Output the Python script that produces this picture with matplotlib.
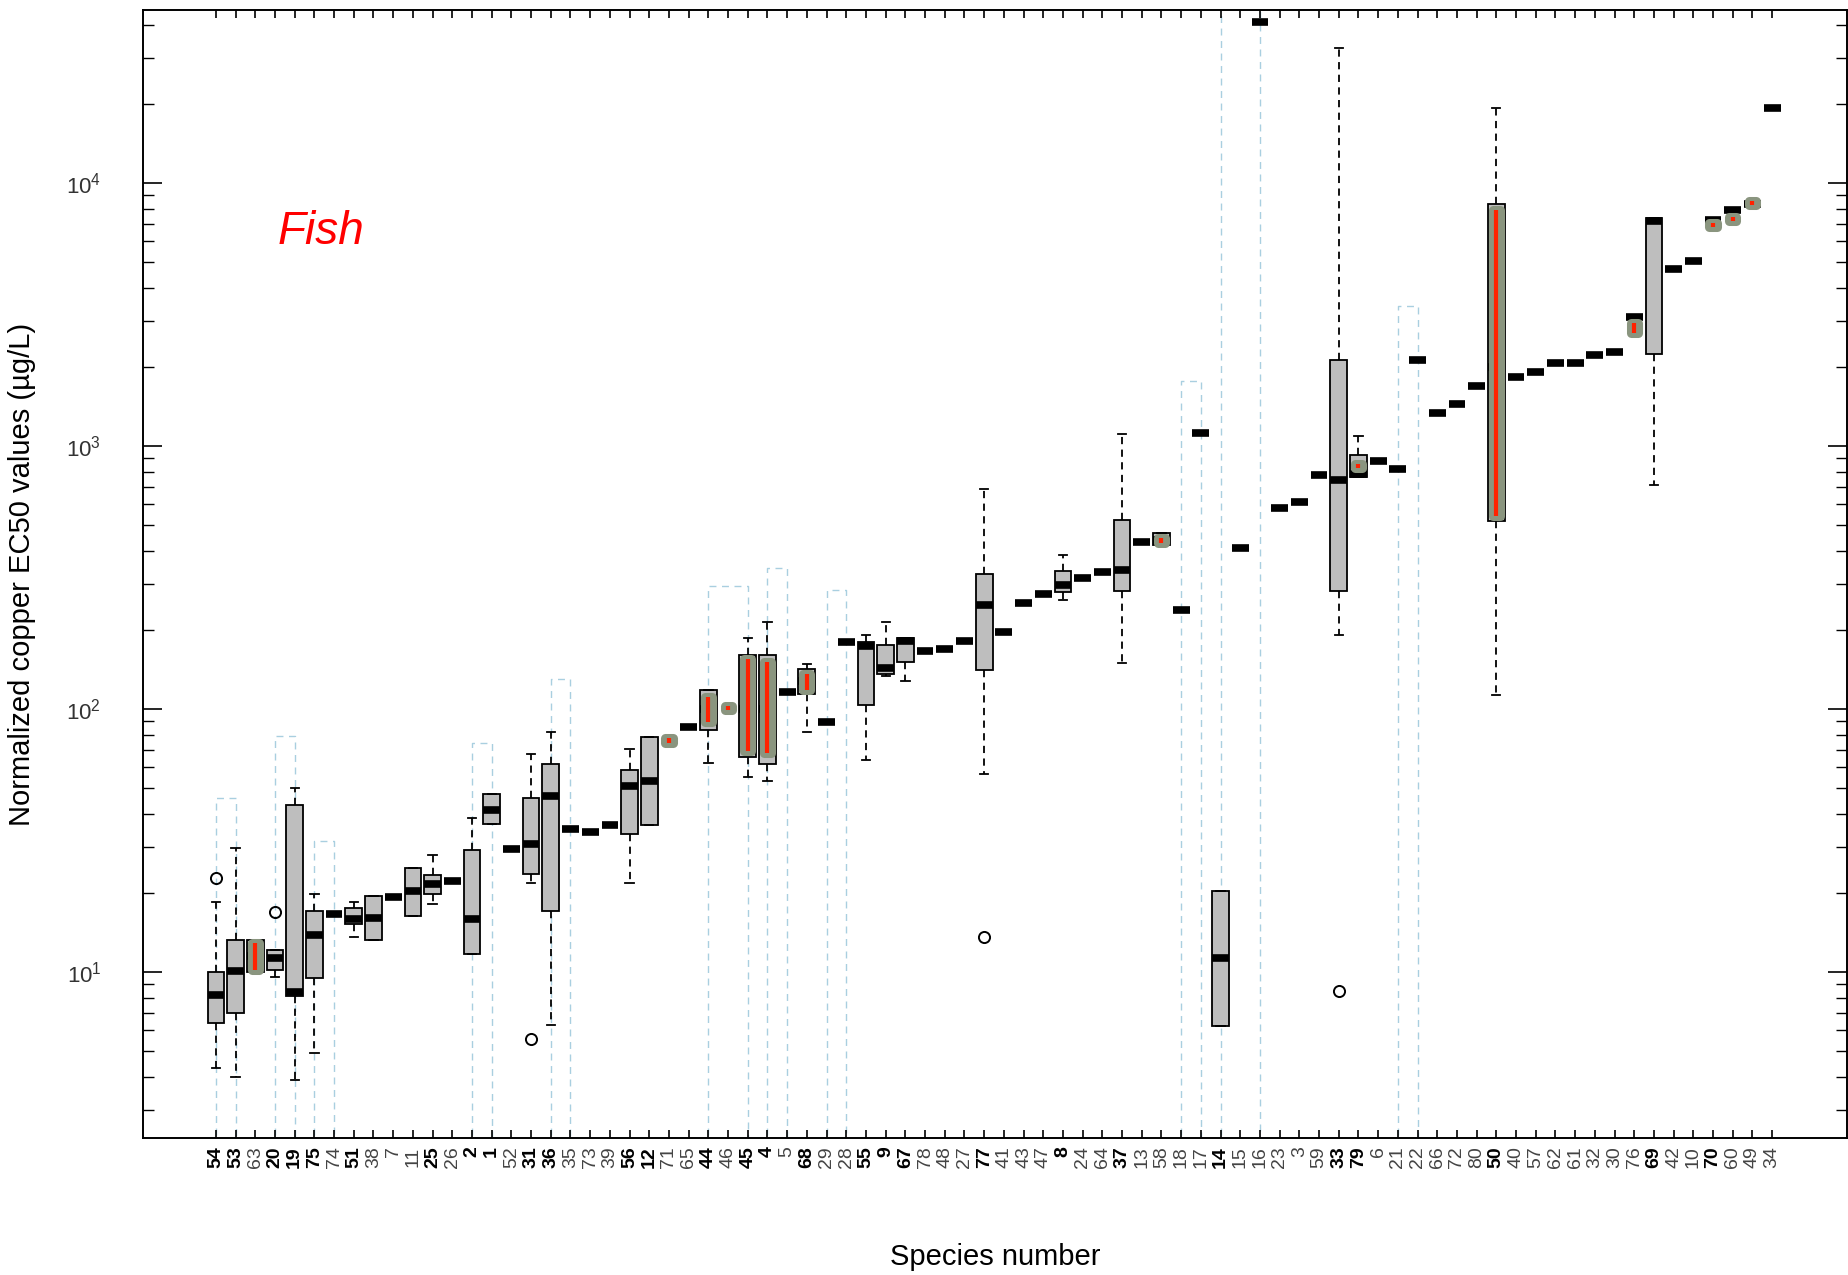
import numpy as np
import matplotlib
matplotlib.use('Agg')
import matplotlib.pyplot as plt
from matplotlib.patches import Rectangle
from matplotlib.ticker import LogLocator, NullFormatter

plt.rcParams['font.family'] = ['Liberation Sans', 'DejaVu Sans']

nan = np.nan

# species, in plotted order
species = ['54', '53', '63', '20', '19', '75', '74', '51', '38', '7',
           '11', '25', '26', '2', '1', '52', '31', '36', '35', '73',
           '39', '56', '12', '71', '65', '44', '46', '45', '4', '5',
           '68', '29', '28', '55', '9', '67', '78', '48', '27', '77',
           '41', '43', '47', '8', '24', '64', '37', '13', '58', '18',
           '17', '14', '15', '16', '23', '3', '59', '33', '79', '6',
           '21', '22', '66', '72', '80', '50', '40', '57', '62', '61',
           '32', '30', '76', '69', '42', '10', '70', '60', '49', '34']
bold_labels = ['54', '53', '20', '19', '75', '51', '25', '2', '1', '31', '36',
               '56', '12', '44', '45', '4', '68', '55', '9', '67', '77', '8',
               '37', '14', '33', '79', '50', '69', '70']

# median EC50 (ug/L) per species, nan = no box drawn
median = [8.2, 10.1, 11.5, 11.3, 8.4, 13.8, 16.6, 15.9, 16.1, 19.3,
          20.3, 21.6, 22.2, 15.9, 41.3, 29.5, 30.7, 46.7, 35.0, 34.2,
          36.1, 51, 53.5, nan, 85.7, 100, nan, 100, 100, 116,
          128, 89.5, 180, 173, 143.6, 181.6, 166, 169, 181.6, 248,
          197, 253, 275, 297, 315, 332, 339, 433, 440, 239,
          1117, 11.3, 408, 41000, 582, 615, 776, 746, 780, 877,
          818, 2120, 1340, 1448, 1692, 2000, 1830, 1913, 2074, 2074,
          2210, 2269, 3100, 7190, 4700, 5070, 7260, 7890, 8320, 19270]

# (q1, q3, whisker low, whisker high) for species with several values
box_stats = {
    '54': (6.4, 10.0, 4.3, 18.5),
    '53': (7.0, 13.2, 4.0, 29.6),
    '63': (10.0, 13.3, 10.0, 13.3),
    '20': (10.2, 12.1, 9.6, 12.1),
    '19': (8.1, 43.2, 3.9, 49.9),
    '75': (9.46, 17.1, 4.93, 19.8),
    '51': (15.3, 17.5, 13.6, 18.5),
    '38': (13.2, 19.5, 13.2, 19.5),
    '11': (16.4, 24.9, 16.4, 24.9),
    '25': (19.8, 23.3, 18.2, 27.9),
    '2': (11.7, 29.1, 11.7, 38.7),
    '1': (36.6, 47.5, 36.6, 47.5),
    '31': (23.6, 46.1, 21.9, 67.5),
    '36': (17.1, 61.6, 6.3, 81.5),
    '56': (33.5, 58.5, 21.9, 70.8),
    '12': (36.3, 78.3, 36.3, 78.3),
    '44': (83, 118, 62.4, 118.5),
    '45': (66, 160, 55, 186.6),
    '4': (62, 160, 53.5, 215),
    '68': (114, 142, 81.8, 148.6),
    '55': (104, 180, 64, 190.5),
    '9': (136.5, 176, 134, 215),
    '67': (151, 186.6, 127.6, 186.6),
    '77': (141, 326, 56.6, 684),
    '8': (278, 335, 259, 384),
    '37': (280, 525, 149.6, 1107),
    '58': (420, 468, 420, 468),
    '14': (6.25, 20.4, 6.25, 20.4),
    '33': (280, 2124, 191, 32700),
    '79': (765, 921, 765, 1091),
    '50': (520, 8300, 113, 19370),
    '69': (2240, 7360, 713, 7360),
}
outliers = {'54': [22.8], '20': [16.9], '31': [5.56], '77': [13.6], '33': [8.48]}

# red/green range bars
highlight = {
    '63': (10.2, 12.9), '71': (74.4, 77.4), '44': (89, 111.6), '46': (99.2, 102.9),
    '45': (69, 155), '4': (68, 151), '68': (118, 136), '58': (428, 447),
    '79': (826, 858), '50': (540, 7890), '76': (2690, 2930), '70': (6800, 7080),
    '60': (7150, 7460), '49': (8250, 8550),
}

# dashed blue frames: first species, last species, top value
frames = [('54', '53', 46), ('20', '19', 79), ('75', '74', 31.5), ('2', '1', 74.5),
          ('36', '35', 130), ('44', '45', 294), ('4', '5', 344), ('29', '28', 284),
          ('18', '17', 1775), ('14', '16', 1e6), ('21', '22', 3400)]

pos = {s: i + 1 for i, s in enumerate(species)}

fig = plt.figure(figsize=(18.49, 12.75), dpi=100)
ax = fig.add_axes([143 / 1849, 1 - 1138 / 1275, 1704 / 1849, 1128 / 1275])
ax.set_yscale('log')
ax.set_ylim(2.34, 45500)
ax.set_xlim(-2.7, 83.8)

blue = '#a9cfe0'
for a, b, top in frames:
    xa, xb = pos[a], pos[b]
    ax.plot([xa, xa, xb, xb], [1, top, top, 1], color=blue, lw=1.0,
            ls=(0, (5, 4)), zorder=1)

stats = []
positions = []
for i, s in enumerate(species):
    m = median[i]
    if np.isnan(m):
        continue
    q1, q3, lo, hi = box_stats.get(s, (m, m, m, m))
    stats.append(dict(med=m, q1=q1, q3=q3, whislo=lo, whishi=hi,
                      fliers=outliers.get(s, [])))
    positions.append(i + 1)

ax.bxp(stats, positions=positions, widths=0.85, capwidths=0.42,
       patch_artist=True, manage_ticks=False, zorder=3,
       boxprops=dict(facecolor='#bebebe', edgecolor='black', linewidth=1.3),
       medianprops=dict(color='black', linewidth=5.5, solid_capstyle='butt'),
       whiskerprops=dict(color='black', linewidth=1.3, linestyle=(0, (4, 3))),
       capprops=dict(color='black', linewidth=1.3),
       flierprops=dict(marker='o', markerfacecolor='none', markeredgecolor='black',
                       markersize=8, markeredgewidth=1.4))

for s, (lo, hi) in highlight.items():
    x = pos[s]
    ax.add_patch(Rectangle((x - 0.18, lo), 0.36, hi - lo, facecolor='#8a957f',
                           edgecolor='#8a957f', lw=6.5, joinstyle='round', zorder=5))
    ax.plot([x, x], [lo, hi], color='#ff2200', lw=3.0, solid_capstyle='butt', zorder=6)

# axes styling
for sp in ax.spines.values():
    sp.set_linewidth(1.4)
ax.yaxis.set_major_locator(LogLocator(base=10, numticks=10))
ax.yaxis.set_minor_locator(LogLocator(base=10, subs=np.arange(2, 10), numticks=20))
ax.yaxis.set_minor_formatter(NullFormatter())
ax.tick_params(axis='y', which='major', direction='in', length=14, width=1.2,
               right=True, labelsize=16, labelcolor='#333333', pad=30)
ax.tick_params(axis='y', which='minor', direction='in', length=8, width=1.0, right=True)

ax.set_xticks(range(1, len(species) + 1))
ax.set_xticklabels(species, rotation=90)
ax.tick_params(axis='x', direction='in', length=6, width=1.2, top=True,
               labelsize=14, pad=6)
for lab in ax.get_xticklabels():
    if lab.get_text() in bold_labels:
        lab.set_fontweight('bold')
        lab.set_color('black')
    else:
        lab.set_color('#444444')

ax.set_xlabel('Species number', fontsize=21, va='center')
ax.xaxis.set_label_coords(0.5, -0.1055)
ax.set_ylabel('Normalized copper EC50 values (\u00b5g/L)', fontsize=21)
ax.yaxis.set_label_coords(-0.063, 0.5)

ax.text(0.1045, 0.803, 'Fish', transform=ax.transAxes, color='red', fontsize=33,
        style='italic', ha='center', va='center')

fig.savefig('out.png', dpi=100)
